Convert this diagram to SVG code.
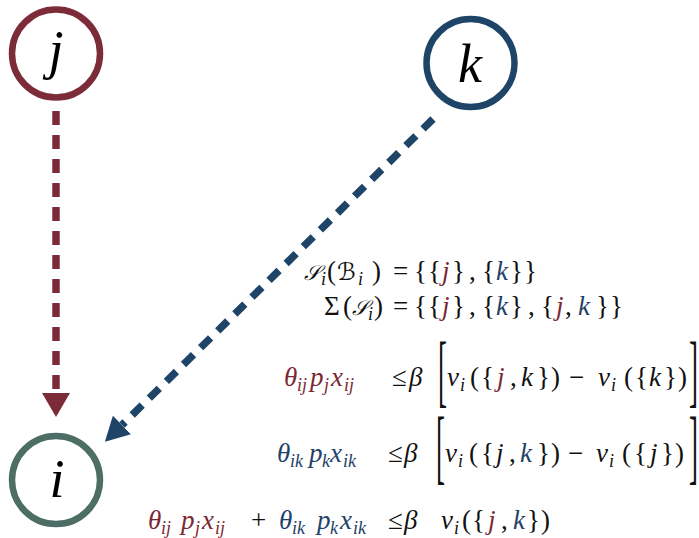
<svg xmlns="http://www.w3.org/2000/svg" width="699" height="538" viewBox="0 0 699 538">
<style>
.bg{fill:#ffffff}
.node{fill:#ffffff;stroke-width:6.5}
.lbl{font-family:"Liberation Serif","DejaVu Serif",serif;font-style:italic;fill:#000;text-anchor:middle}
.m{font-family:"Liberation Serif","DejaVu Serif","DejaVu Sans",serif;font-size:27px;fill:#111}
.it{font-style:italic}
.sc{font-size:21px}
.sb{font-size:24px}
.s{font-size:18px;font-style:italic}
.r{fill:#7a2833}
.b{fill:#1f4269}
.edge{fill:none;stroke-width:7.5;stroke-dasharray:14 10}
</style>
<defs>
<marker id="ahR" markerUnits="userSpaceOnUse" viewBox="0 0 24 28" refX="0" refY="14" markerWidth="24" markerHeight="28" orient="auto">
<path d="M0,0 L24,14 L0,28 z" fill="#7b2c38"/>
</marker>
<marker id="ahB" markerUnits="userSpaceOnUse" viewBox="0 0 24 26" refX="0" refY="13" markerWidth="24" markerHeight="26" orient="auto">
<path d="M0,0 L24,13 L0,26 z" fill="#1e4468"/>
</marker>
</defs>
<rect class="bg" x="0" y="0" width="699" height="538"/>
<g id="connectors">
<line class="edge" x1="56" y1="111" x2="56" y2="393" stroke="#7b2c38" marker-end="url(#ahR)"/>
<line class="edge" x1="433" y1="119" x2="122" y2="425" stroke="#1e4468" marker-end="url(#ahB)"/>
</g>
<g id="node-j">
<circle class="node" cx="56" cy="53.5" r="44" stroke="#7b2c38"/>
<text class="lbl" x="56" y="68" font-size="54">j</text>
</g>
<g id="node-k">
<circle class="node" cx="470.5" cy="63" r="44" stroke="#1e4468"/>
<text class="lbl" x="470" y="82" font-size="54">k</text>
</g>
<g id="node-i">
<circle class="node" cx="56" cy="480" r="44" stroke="#4c6e65"/>
<text class="lbl" x="57" y="497" font-size="54">i</text>
</g>
<g id="equations">
<text class="m">
<tspan x="304" y="280" class="it sc">𝒮</tspan><tspan x="321" y="285" class="s">i</tspan><tspan x="327" y="280">(</tspan><tspan x="337" y="280" class="it sb">ℬ</tspan><tspan x="358" y="285" class="s">i</tspan><tspan x="372" y="280">)</tspan><tspan x="393" y="280">=</tspan><tspan x="414" y="280">{</tspan><tspan x="428" y="280">{</tspan><tspan x="442" y="280" class="it r">j</tspan><tspan x="452" y="280">}</tspan><tspan x="469" y="280">,</tspan><tspan x="482" y="280">{</tspan><tspan x="496" y="280" class="it b">k</tspan><tspan x="510" y="280">}</tspan><tspan x="524" y="280">}</tspan>
</text>
<text class="m">
<tspan x="324" y="315">Σ</tspan><tspan x="343" y="315">(</tspan><tspan x="352" y="315" class="it sc">𝒮</tspan><tspan x="368" y="320" class="s">i</tspan><tspan x="374" y="315">)</tspan><tspan x="393" y="315">=</tspan><tspan x="414" y="315">{</tspan><tspan x="428" y="315">{</tspan><tspan x="442" y="315" class="it r">j</tspan><tspan x="452" y="315">}</tspan><tspan x="469" y="315">,</tspan><tspan x="482" y="315">{</tspan><tspan x="496" y="315" class="it b">k</tspan><tspan x="510" y="315">}</tspan><tspan x="528" y="315">,</tspan><tspan x="541" y="315">{</tspan><tspan x="556" y="315" class="it r">j</tspan><tspan x="565" y="315">,</tspan><tspan x="578" y="315" class="it b">k</tspan><tspan x="596" y="315">}</tspan><tspan x="610" y="315">}</tspan>
</text>
<text class="m">
<tspan x="284" y="386" class="it r">θ</tspan><tspan x="297" y="391" class="s r">ij</tspan><tspan x="310" y="386" class="it r">p</tspan><tspan x="324" y="391" class="s r">j</tspan><tspan x="331" y="386" class="it r">x</tspan><tspan x="344" y="391" class="s r">ij</tspan><tspan x="392" y="386">≤</tspan><tspan x="409" y="386" class="it">β</tspan><tspan x="447" y="386" class="it">ν</tspan><tspan x="460" y="391" class="s">i</tspan><tspan x="470" y="386">(</tspan><tspan x="481" y="386">{</tspan><tspan x="497" y="386" class="it r">j</tspan><tspan x="510" y="386">,</tspan><tspan x="521" y="386" class="it">k</tspan><tspan x="537" y="386">}</tspan><tspan x="551" y="386">)</tspan><tspan x="569" y="386">−</tspan><tspan x="598" y="386" class="it">ν</tspan><tspan x="611" y="391" class="s">i</tspan><tspan x="624" y="386">(</tspan><tspan x="635" y="386">{</tspan><tspan x="649" y="386" class="it">k</tspan><tspan x="664" y="386">}</tspan><tspan x="678" y="386">)</tspan>
</text>
<text class="m" transform="translate(438,397) scale(1,3.0)">[</text>
<text class="m" transform="translate(689,397) scale(1,3.0)">]</text>
<text class="m">
<tspan x="277" y="462" class="it b">θ</tspan><tspan x="290" y="467" class="s b">ik</tspan><tspan x="309" y="462" class="it b">p</tspan><tspan x="322" y="467" class="s b">k</tspan><tspan x="330" y="462" class="it b">x</tspan><tspan x="343" y="467" class="s b">ik</tspan><tspan x="388" y="462">≤</tspan><tspan x="404" y="462" class="it">β</tspan><tspan x="445" y="462" class="it">ν</tspan><tspan x="458" y="467" class="s">i</tspan><tspan x="469" y="462">(</tspan><tspan x="481" y="462">{</tspan><tspan x="496" y="462" class="it">j</tspan><tspan x="509" y="462">,</tspan><tspan x="520" y="462" class="it b">k</tspan><tspan x="537" y="462">}</tspan><tspan x="551" y="462">)</tspan><tspan x="568" y="462">−</tspan><tspan x="596" y="462" class="it">ν</tspan><tspan x="609" y="467" class="s">i</tspan><tspan x="622" y="462">(</tspan><tspan x="634" y="462">{</tspan><tspan x="650" y="462" class="it">j</tspan><tspan x="661" y="462">}</tspan><tspan x="675" y="462">)</tspan>
</text>
<text class="m" transform="translate(436,474) scale(1,3.05)">[</text>
<text class="m" transform="translate(689,474) scale(1,3.05)">]</text>
<text class="m">
<tspan x="148" y="529" class="it r">θ</tspan><tspan x="161" y="534" class="s r">ij</tspan><tspan x="181" y="529" class="it r">p</tspan><tspan x="195" y="534" class="s r">j</tspan><tspan x="202" y="529" class="it r">x</tspan><tspan x="215" y="534" class="s r">ij</tspan><tspan x="251" y="529">+</tspan><tspan x="279" y="529" class="it b">θ</tspan><tspan x="292" y="534" class="s b">ik</tspan><tspan x="317" y="529" class="it b">p</tspan><tspan x="330" y="534" class="s b">k</tspan><tspan x="340" y="529" class="it b">x</tspan><tspan x="353" y="534" class="s b">ik</tspan><tspan x="388" y="529">≤</tspan><tspan x="404" y="529" class="it">β</tspan><tspan x="441" y="529" class="it">ν</tspan><tspan x="454" y="534" class="s">i</tspan><tspan x="462" y="529">(</tspan><tspan x="472" y="529">{</tspan><tspan x="488" y="529" class="it r">j</tspan><tspan x="501" y="529">,</tspan><tspan x="513" y="529" class="it b">k</tspan><tspan x="527" y="529">}</tspan><tspan x="541" y="529">)</tspan>
</text>
</g>
</svg>
